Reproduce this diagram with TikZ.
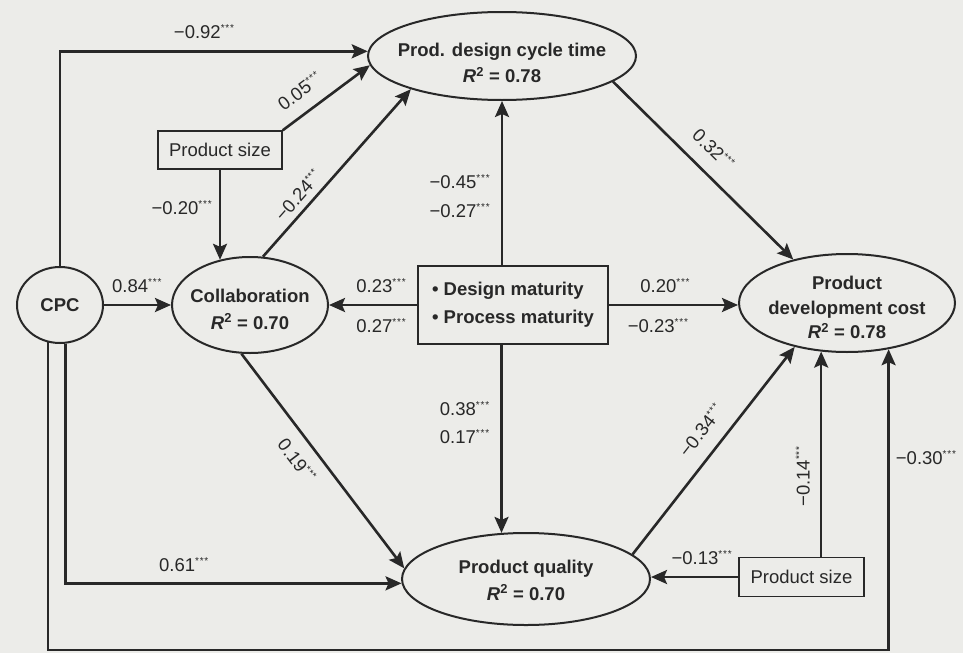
\documentclass[tikz,border=0pt]{standalone}
\usepackage{fontspec}
\setmainfont{Liberation Sans}
\usetikzlibrary{shapes.geometric,arrows.meta}
\definecolor{bgc}{RGB}{236,236,233}
\definecolor{ink}{RGB}{40,40,40}
\newcommand{\sg}{\raisebox{7pt}{\fontsize{10}{10}\selectfont *\kern0.8pt*\kern0.8pt*}}
\begin{document}
\begin{tikzpicture}[x=1pt,y=-1pt,
  every node/.style={text=ink},
  ell/.style={ellipse, draw=ink, line width=2pt, fill=bgc, inner sep=0pt},
  etxt/.style={align=center, font=\fontsize{18.5}{26}\selectfont\bfseries, inner sep=0pt},
  bx/.style={rectangle, draw=ink, line width=1.5pt, fill=bgc, inner sep=0pt},
  arr/.style={draw=ink, line width=2.6pt, -{Stealth[length=16pt,width=14pt,inset=3pt]}},
  lab/.style={font=\fontsize{18.5}{20}\selectfont}
]
\fill[bgc] (0,0) rectangle (963,653);
\useasboundingbox (0,0) rectangle (963,653);

% nodes
\node[ell, minimum width=268pt, minimum height=88pt,
  label={[etxt, yshift=-7pt]center:{Prod. design cycle time\\\textit{R}\textsuperscript{2} = 0.78}}] (pdct) at (502,56) {};
\node[ell, minimum width=86pt, minimum height=76pt, font=\fontsize{18.5}{22}\selectfont\bfseries] (cpc) at (60,305) {CPC};
\node[ell, minimum width=156pt, minimum height=96pt,
  label={[etxt, yshift=-4pt, font=\fontsize{18.5}{27}\selectfont\bfseries]center:{Collaboration\\\textit{R}\textsuperscript{2} = 0.70}}] (collab) at (250,305) {};
\node[ell, minimum width=216pt, minimum height=98pt,
  label={[etxt, yshift=-4.5pt, font=\fontsize{18.5}{24.5}\selectfont\bfseries]center:{Product\\development cost\\\textit{R}\textsuperscript{2} = 0.78}}] (pdc) at (847,303) {};
\node[ell, minimum width=248pt, minimum height=92pt,
  label={[etxt, yshift=-1pt, font=\fontsize{18.5}{27}\selectfont\bfseries]center:{Product quality\\\textit{R}\textsuperscript{2} = 0.70}}] (qual) at (526,579) {};
\node[bx, minimum width=190pt, minimum height=78pt, align=left,
  font=\fontsize{18.5}{28}\selectfont\bfseries] (mat) at (513,305) {\textbullet\ Design maturity\\\textbullet\ Process maturity};
\node[bx, minimum width=124pt, minimum height=38pt, font=\fontsize{18.5}{20}\selectfont] (psz1) at (220,150) {Product size};
\node[bx, minimum width=125pt, minimum height=39pt, font=\fontsize{18.5}{20}\selectfont] (psz2) at (801.5,577) {Product size};
\coordinate (ybot) at (0,650);
\coordinate (bc) at (pdc.312 |- ybot);

% connectors
\draw[arr] (cpc.north) |- node[lab,pos=0.734,anchor=south,inner sep=11pt]{−0.92\sg} (pdct.178);
\draw[arr] (psz1.north east) -- node[lab,pos=0.34,sloped,anchor=south,inner sep=13pt]{0.05\sg} (pdct.184);
\draw[arr] (psz1.south) -- node[lab,pos=0.42,anchor=east,inner sep=7pt]{−0.20\sg} (psz1.south |- collab.124);
\draw[arr] (collab.75) -- node[lab,pos=0.31,sloped,anchor=south,inner sep=6pt]{−0.24\sg} (pdct.200);
\draw[arr] (cpc.east) -- node[lab,pos=0.49,anchor=south,inner sep=11pt]{0.84\sg} (collab.west);
\draw[arr] (mat.west) -- node[lab,pos=0.41,anchor=south,inner sep=11pt]{0.23\sg}
  node[lab,pos=0.41,anchor=north,inner sep=12pt]{0.27\sg} (collab.east);
\draw[arr] (pdct.south |- mat.north) -- node[lab,pos=0.506,anchor=east,inner sep=11pt]{−0.45\sg}
  node[lab,pos=0.331,anchor=east,inner sep=11pt]{−0.27\sg} (pdct.south);
\draw[arr] (mat.east) -- node[lab,pos=0.435,anchor=south,inner sep=11pt]{0.20\sg}
  node[lab,pos=0.38,anchor=north,inner sep=12pt]{−0.23\sg} (mat.east -| pdc.west);
\draw[arr] (qual.118 |- mat.south) -- node[lab,pos=0.337,anchor=east,inner sep=11pt]{0.38\sg}
  node[lab,pos=0.489,anchor=east,inner sep=11pt]{0.17\sg} (qual.118);
\draw[arr] (pdct.347) -- node[lab,pos=0.47,sloped,anchor=south,inner sep=14pt]{0.32\sg} (pdc.141);
\draw[arr] (collab.260) -- node[lab,pos=0.44,sloped,anchor=north,inner sep=12pt]{0.19\sg} (qual.175);
\draw[arr] (cpc.278) |- node[lab,pos=0.676,anchor=south,inner sep=10pt]{0.61\sg} (qual.182);
\draw[arr] (cpc.252) |- (bc) -- node[lab,pos=0.638,anchor=west,inner sep=6pt]{−0.30\sg} (pdc.312);
\draw[arr] (qual.13) -- node[lab,pos=0.53,sloped,anchor=south,inner sep=14pt]{−0.34\sg} (pdc.220);
\draw[arr] (pdc.242 |- psz2.north) -- node[lab,pos=0.39,rotate=90,anchor=south,inner sep=10pt]{−0.14\sg} (pdc.242);
\draw[arr] (psz2.west) -- node[lab,pos=0.42,anchor=south,inner sep=11pt]{−0.13\sg} (psz2.west -| qual.east);
\end{tikzpicture}
\end{document}
